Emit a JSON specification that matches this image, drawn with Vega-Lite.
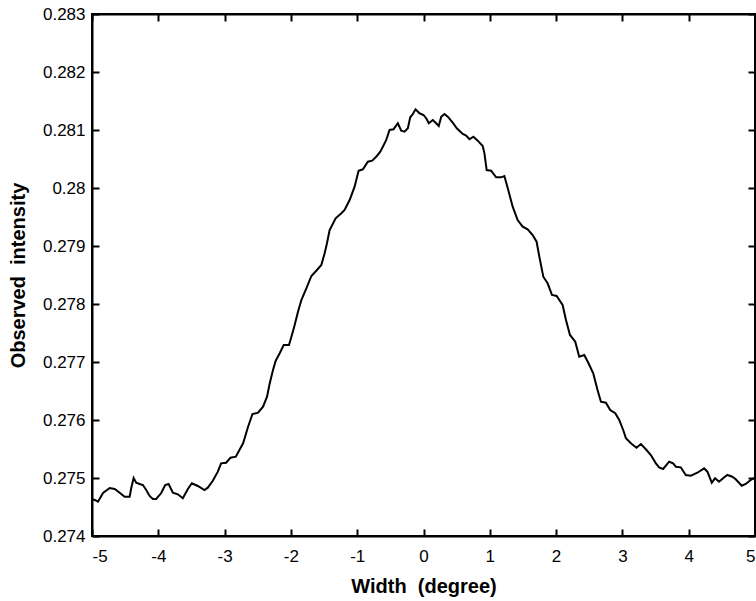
{
  "$schema": "https://vega.github.io/schema/vega-lite/v6.json",
  "autosize": "none",
  "width": 663,
  "height": 522,
  "padding": {"left": 92, "top": 14, "right": 1, "bottom": 65},
  "background": "white",
  "config": {
    "view": {"stroke": "black", "strokeWidth": 2},
    "font": "Liberation Sans",
    "axis": {
      "domainColor": "black", "domainWidth": 2,
      "tickColor": "black", "tickWidth": 2, "tickSize": -7,
      "labelColor": "black", "labelFont": "Liberation Sans", "labelFontSize": 17,
      "titleFont": "Liberation Sans", "titleFontSize": 20, "titleFontWeight": "bold", "titleColor": "black",
      "grid": false
    }
  },
  "data": {"values": [
    {"x": -5.0, "y": 0.274638}, {"x": -4.959, "y": 0.274621}, {"x": -4.91, "y": 0.274591}, {"x": -4.834, "y": 0.274741},
    {"x": -4.733, "y": 0.274828}, {"x": -4.658, "y": 0.27481}, {"x": -4.583, "y": 0.274747}, {"x": -4.508, "y": 0.274678},
    {"x": -4.432, "y": 0.274678}, {"x": -4.408, "y": 0.274828}, {"x": -4.372, "y": 0.275}, {"x": -4.333, "y": 0.274919},
    {"x": -4.282, "y": 0.274897}, {"x": -4.232, "y": 0.274879}, {"x": -4.182, "y": 0.274793}, {"x": -4.131, "y": 0.27469},
    {"x": -4.081, "y": 0.274638}, {"x": -4.032, "y": 0.274638}, {"x": -3.956, "y": 0.274741}, {"x": -3.896, "y": 0.274879},
    {"x": -3.845, "y": 0.274897}, {"x": -3.78, "y": 0.274747}, {"x": -3.705, "y": 0.274719}, {"x": -3.63, "y": 0.27465},
    {"x": -3.554, "y": 0.27481}, {"x": -3.494, "y": 0.274909}, {"x": -3.404, "y": 0.274862}, {"x": -3.303, "y": 0.274793},
    {"x": -3.253, "y": 0.274833}, {"x": -3.178, "y": 0.274953}, {"x": -3.102, "y": 0.275109}, {"x": -3.053, "y": 0.275253},
    {"x": -2.977, "y": 0.275264}, {"x": -2.911, "y": 0.27535}, {"x": -2.831, "y": 0.275367}, {"x": -2.776, "y": 0.275483},
    {"x": -2.721, "y": 0.275598}, {"x": -2.646, "y": 0.275884}, {"x": -2.58, "y": 0.276103}, {"x": -2.495, "y": 0.276126},
    {"x": -2.42, "y": 0.276229}, {"x": -2.36, "y": 0.276402}, {"x": -2.319, "y": 0.276633}, {"x": -2.27, "y": 0.276862},
    {"x": -2.229, "y": 0.277022}, {"x": -2.169, "y": 0.27715}, {"x": -2.108, "y": 0.277293}, {"x": -2.029, "y": 0.277293},
    {"x": -1.992, "y": 0.277436}, {"x": -1.943, "y": 0.277638}, {"x": -1.893, "y": 0.277867}, {"x": -1.842, "y": 0.278069},
    {"x": -1.767, "y": 0.278271}, {"x": -1.691, "y": 0.278483}, {"x": -1.607, "y": 0.278586}, {"x": -1.541, "y": 0.278672},
    {"x": -1.491, "y": 0.278874}, {"x": -1.456, "y": 0.279047}, {"x": -1.416, "y": 0.279276}, {"x": -1.325, "y": 0.279478},
    {"x": -1.239, "y": 0.279564}, {"x": -1.19, "y": 0.279621}, {"x": -1.114, "y": 0.279793}, {"x": -1.039, "y": 0.280022},
    {"x": -0.979, "y": 0.280298}, {"x": -0.914, "y": 0.280322}, {"x": -0.839, "y": 0.280453}, {"x": -0.773, "y": 0.280471},
    {"x": -0.703, "y": 0.280552}, {"x": -0.652, "y": 0.280626}, {"x": -0.613, "y": 0.280712}, {"x": -0.562, "y": 0.280828},
    {"x": -0.512, "y": 0.281}, {"x": -0.452, "y": 0.281012}, {"x": -0.387, "y": 0.281116}, {"x": -0.336, "y": 0.280988},
    {"x": -0.286, "y": 0.280971}, {"x": -0.236, "y": 0.281029}, {"x": -0.2, "y": 0.281219}, {"x": -0.161, "y": 0.281276},
    {"x": -0.12, "y": 0.281357}, {"x": -0.06, "y": 0.281288}, {"x": 0.0, "y": 0.281259}, {"x": 0.041, "y": 0.281202},
    {"x": 0.08, "y": 0.281116}, {"x": 0.14, "y": 0.281172}, {"x": 0.191, "y": 0.281116}, {"x": 0.23, "y": 0.281069},
    {"x": 0.267, "y": 0.281229}, {"x": 0.316, "y": 0.281276}, {"x": 0.366, "y": 0.281229}, {"x": 0.441, "y": 0.281126},
    {"x": 0.502, "y": 0.281029}, {"x": 0.592, "y": 0.280931}, {"x": 0.643, "y": 0.280902}, {"x": 0.693, "y": 0.28084},
    {"x": 0.753, "y": 0.280884}, {"x": 0.818, "y": 0.280816}, {"x": 0.893, "y": 0.280724}, {"x": 0.919, "y": 0.280598},
    {"x": 0.953, "y": 0.28031}, {"x": 1.02, "y": 0.280298}, {"x": 1.095, "y": 0.280184}, {"x": 1.17, "y": 0.280184},
    {"x": 1.22, "y": 0.280207}, {"x": 1.27, "y": 0.28}, {"x": 1.345, "y": 0.279678}, {"x": 1.42, "y": 0.279448},
    {"x": 1.496, "y": 0.279333}, {"x": 1.571, "y": 0.279288}, {"x": 1.646, "y": 0.27919}, {"x": 1.706, "y": 0.279074},
    {"x": 1.747, "y": 0.278816}, {"x": 1.807, "y": 0.278471}, {"x": 1.872, "y": 0.278357}, {"x": 1.938, "y": 0.278155},
    {"x": 2.008, "y": 0.278138}, {"x": 2.098, "y": 0.277983}, {"x": 2.149, "y": 0.277724}, {"x": 2.209, "y": 0.277466},
    {"x": 2.289, "y": 0.27735}, {"x": 2.349, "y": 0.277091}, {"x": 2.425, "y": 0.277121}, {"x": 2.489, "y": 0.276978},
    {"x": 2.56, "y": 0.276805}, {"x": 2.625, "y": 0.276517}, {"x": 2.676, "y": 0.276316}, {"x": 2.751, "y": 0.276298},
    {"x": 2.816, "y": 0.276172}, {"x": 2.892, "y": 0.276116}, {"x": 2.952, "y": 0.276}, {"x": 3.012, "y": 0.275828},
    {"x": 3.053, "y": 0.275684}, {"x": 3.128, "y": 0.275598}, {"x": 3.212, "y": 0.275522}, {"x": 3.279, "y": 0.275586},
    {"x": 3.354, "y": 0.275495}, {"x": 3.429, "y": 0.275397}, {"x": 3.505, "y": 0.275253}, {"x": 3.554, "y": 0.275184},
    {"x": 3.614, "y": 0.275155}, {"x": 3.705, "y": 0.275281}, {"x": 3.765, "y": 0.275253}, {"x": 3.806, "y": 0.275195},
    {"x": 3.881, "y": 0.275184}, {"x": 3.956, "y": 0.275052}, {"x": 4.032, "y": 0.27504}, {"x": 4.131, "y": 0.275091},
    {"x": 4.232, "y": 0.275167}, {"x": 4.282, "y": 0.275109}, {"x": 4.348, "y": 0.274919}, {"x": 4.398, "y": 0.274995},
    {"x": 4.458, "y": 0.274936}, {"x": 4.518, "y": 0.274995}, {"x": 4.583, "y": 0.275052}, {"x": 4.658, "y": 0.275022},
    {"x": 4.709, "y": 0.274978}, {"x": 4.8, "y": 0.274867}, {"x": 4.86, "y": 0.274897}, {"x": 4.935, "y": 0.274966},
    {"x": 4.985, "y": 0.274995}, {"x": 5.0, "y": 0.275}
  ]},
  "layer": [
    {
      "mark": {"type": "line", "color": "black", "strokeWidth": 2, "clip": true},
      "encoding": {
        "x": {"field": "x", "type": "quantitative", "scale": {"domain": [-5, 5], "nice": false, "zero": false},
          "axis": {"title": "Width \u00a0(degree)", "values": [-5,-4,-3,-2,-1,0,1,2,3,4,5], "labelPadding": 19, "titlePadding": 12,
            "labelExpr": "datum.value < 0 ? '-' + abs(datum.value) : '' + datum.value"}},
        "y": {"field": "y", "type": "quantitative", "scale": {"domain": [0.274, 0.283], "nice": false, "zero": false},
          "axis": {"title": "Observed \u00a0intensity", "values": [0.274,0.275,0.276,0.277,0.278,0.279,0.28,0.281,0.282,0.283],
            "format": "~g", "labelPadding": 14, "titlePadding": 14}}
      }
    },
    {
      "mark": {"type": "line", "strokeOpacity": 0},
      "encoding": {
        "x": {"field": "x", "type": "quantitative", "scale": {"domain": [-5, 5], "nice": false, "zero": false},
          "axis": {"orient": "top", "title": null, "labels": false, "values": [-5,-4,-3,-2,-1,0,1,2,3,4,5]}},
        "y": {"field": "y", "type": "quantitative", "scale": {"domain": [0.274, 0.283], "nice": false, "zero": false},
          "axis": {"orient": "right", "title": null, "labels": false, "values": [0.274,0.275,0.276,0.277,0.278,0.279,0.28,0.281,0.282,0.283]}}
      }
    }
  ],
  "resolve": {"axis": {"x": "independent", "y": "independent"}}
}
